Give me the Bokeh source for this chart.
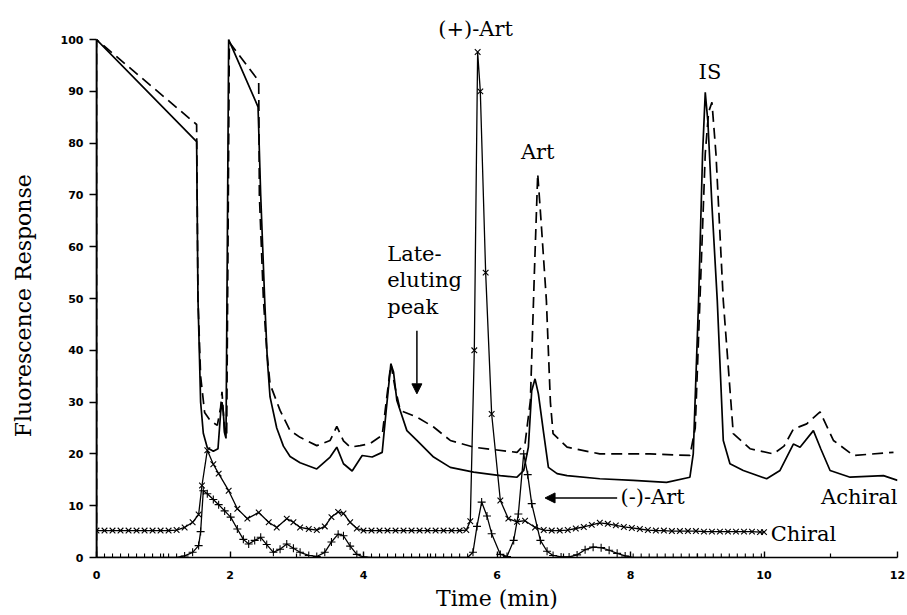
import math
from bokeh.plotting import figure
from bokeh.models import Range1d, FixedTicker, Arrow, NormalHead, Label
from bokeh.core.properties import value
from bokeh.embed import file_html
from bokeh.resources import INLINE

# ---------------- data ----------------
achiral_solid_x = [0.0, 0.0, 1.50, 1.52, 1.56, 1.60, 1.66, 1.75, 1.82, 1.86, 1.88, 1.90, 1.92, 1.94,
                   1.96, 1.98, 2.42, 2.46, 2.52, 2.56, 2.60, 2.70, 2.80, 2.90, 3.05, 3.30, 3.50,
                   3.60, 3.70, 3.83, 3.98, 4.13, 4.28, 4.34, 4.41, 4.45, 4.50, 4.65, 4.80, 5.05,
                   5.30, 5.65, 6.05, 6.30, 6.40, 6.47, 6.52, 6.57, 6.62, 6.70, 6.77, 6.90, 7.05,
                   7.54, 8.04, 8.54, 8.89, 8.94, 9.02, 9.08, 9.12, 9.16, 9.22, 9.30, 9.39, 9.49,
                   9.69, 10.04, 10.24, 10.44, 10.54, 10.74, 10.85, 10.99, 11.29, 11.79, 12.0]
achiral_solid_y = [0.0, 100.0, 80.3, 50.0, 30.0, 24.0, 21.2, 20.5, 21.0, 28.0, 30.0, 28.0, 24.0, 23.0,
                   60.0, 100.0, 87.0, 70.0, 49.6, 38.0, 31.0, 25.0, 21.5, 19.5, 18.3, 17.1, 19.4,
                   21.3, 18.1, 16.7, 19.7, 19.4, 20.3, 28.4, 37.4, 35.8, 30.3, 24.5, 22.6, 19.4,
                   17.4, 16.5, 15.8, 15.5, 16.8, 21.3, 32.2, 34.5, 31.6, 23.9, 17.4, 16.2, 15.8,
                   15.2, 14.9, 14.5, 15.5, 20.0, 49.6, 78.0, 89.8, 84.0, 68.0, 49.6, 22.6, 18.1,
                   16.8, 15.2, 16.8, 21.9, 21.3, 24.5, 21.0, 16.8, 15.5, 15.8, 14.9]

achiral_dash_x = [0.0, 0.0, 1.50, 1.52, 1.56, 1.62, 1.70, 1.81, 1.86, 1.88, 1.90, 1.92, 1.95, 1.97,
                  1.99, 2.43, 2.44, 2.50, 2.55, 2.60, 2.75, 2.90, 3.05, 3.30, 3.50, 3.60, 3.70,
                  3.80, 3.95, 4.10, 4.28, 4.34, 4.41, 4.47, 4.55, 4.80, 5.05, 5.30, 5.65, 6.30,
                  6.42, 6.50, 6.56, 6.61, 6.66, 6.74, 6.80, 6.84, 7.05, 7.54, 8.29, 8.89, 8.97,
                  9.04, 9.12, 9.17, 9.22, 9.28, 9.39, 9.54, 9.79, 10.14, 10.30, 10.44, 10.64,
                  10.84, 11.04, 11.34, 11.94]
achiral_dash_y = [0.0, 100.0, 83.6, 50.0, 35.0, 28.0, 26.5, 25.5, 29.0, 32.0, 28.0, 24.0, 23.5, 60.0,
                  99.5, 92.0, 70.0, 50.0, 40.0, 33.5, 28.4, 24.5, 23.2, 21.6, 22.6, 25.3, 22.5,
                  21.3, 21.6, 22.0, 23.6, 30.0, 37.4, 33.0, 28.4, 27.1, 25.2, 22.6, 21.3, 20.3,
                  22.0, 30.3, 55.0, 74.1, 65.0, 49.6, 30.0, 23.9, 21.3, 20.0, 20.0, 19.7, 25.0,
                  49.6, 78.0, 86.0, 87.9, 78.0, 49.6, 23.9, 21.0, 20.0, 21.5, 24.8, 25.8,
                  28.1, 22.6, 19.7, 20.3]

chiral_x_x = [0.00, 0.12, 0.24, 0.36, 0.48, 0.60, 0.72, 0.84, 0.96, 1.08, 1.20, 1.32, 1.44, 1.53,
              1.58, 1.66, 1.75, 1.83, 1.98, 2.11, 2.26, 2.43, 2.58, 2.70, 2.85, 2.95, 3.05, 3.18,
              3.30, 3.42, 3.52, 3.62, 3.70, 3.80, 3.90, 4.00, 4.12, 4.24, 4.36, 4.48, 4.60, 4.72,
              4.84, 4.96, 5.08, 5.20, 5.32, 5.44, 5.54, 5.60, 5.66, 5.71, 5.75, 5.83, 5.92, 6.05,
              6.17, 6.30, 6.42, 6.57, 6.70, 6.82, 6.94, 7.06, 7.18, 7.30, 7.42, 7.54, 7.66, 7.78,
              7.90, 8.02, 8.14, 8.26, 8.38, 8.50, 8.62, 8.74, 8.86, 8.98, 9.10, 9.22, 9.34, 9.46,
              9.58, 9.70, 9.82, 9.94, 10.0]
chiral_x_y = [5.2, 5.2, 5.2, 5.2, 5.2, 5.2, 5.2, 5.2, 5.2, 5.2, 5.3, 5.8, 6.8, 8.3,
              13.9, 20.7, 18.0, 16.2, 12.9, 9.4, 7.5, 8.7, 6.8, 5.8, 7.5, 6.8, 5.8, 5.5,
              5.3, 6.0, 7.8, 8.8, 8.5, 6.8, 5.6, 5.2, 5.2, 5.2, 5.2, 5.2, 5.2, 5.2,
              5.2, 5.2, 5.2, 5.2, 5.2, 5.2, 5.3, 7.0, 40.0, 97.6, 90.0, 55.0, 27.7, 11.0,
              7.5, 6.9, 7.1, 5.8, 5.3, 5.2, 5.2, 5.3, 5.6, 5.9, 6.3, 6.7, 6.5, 6.2,
              5.9, 5.7, 5.5, 5.3, 5.2, 5.2, 5.1, 5.1, 5.1, 5.1, 5.0, 5.0, 5.0, 5.0,
              5.0, 5.0, 5.0, 4.9, 4.9]

chiral_p_x = [0.00, 0.12, 0.24, 0.36, 0.48, 0.60, 0.72, 0.84, 0.96, 1.08, 1.20, 1.32, 1.44, 1.53,
              1.56, 1.60, 1.66, 1.75, 1.83, 1.92, 2.01, 2.11, 2.20, 2.28, 2.37, 2.46, 2.55, 2.65,
              2.75, 2.85, 2.95, 3.05, 3.18, 3.30, 3.42, 3.52, 3.62, 3.70, 3.80, 3.90, 4.00, 4.12,
              4.24, 4.36, 4.48, 4.60, 4.72, 4.84, 4.96, 5.08, 5.20, 5.32, 5.44, 5.56, 5.64, 5.70,
              5.77, 5.85, 5.92, 6.05, 6.15, 6.25, 6.32, 6.40, 6.46, 6.52, 6.65, 6.75, 6.84, 6.96,
              7.08, 7.20, 7.32, 7.44, 7.56, 7.68, 7.80, 7.92, 8.04, 8.16, 8.28, 8.40, 8.52, 8.64,
              8.76, 8.88, 9.00, 9.12, 9.24, 9.36, 9.48, 9.60, 9.72, 9.84, 9.96]
chiral_p_y = [0.0, 0.0, 0.0, 0.0, 0.0, 0.0, 0.0, 0.0, 0.0, 0.0, 0.0, 0.3, 1.0, 2.3,
              5.0, 12.9, 12.3, 11.2, 10.2, 9.0, 7.8, 5.5, 3.5, 2.6, 3.3, 3.9, 2.5, 1.0,
              1.6, 2.6, 1.8, 1.0, 0.4, 0.2, 1.0, 3.0, 4.5, 4.2, 2.2, 0.6, 0.1, 0.0,
              0.0, 0.0, 0.0, 0.0, 0.0, 0.0, 0.0, 0.0, 0.0, 0.0, 0.0, 0.0, 1.0, 6.0,
              10.7, 8.0, 4.6, 0.6, 0.2, 3.3, 8.4, 20.0, 16.0, 10.4, 3.3, 1.2, 0.4, 0.1,
              0.1, 0.5, 1.5, 2.0, 1.9, 1.4, 0.8, 0.3, 0.0, 0.0, 0.0, 0.0, 0.0, 0.0,
              0.0, 0.0, 0.0, 0.0, 0.0, 0.0, 0.0, 0.0, 0.0, 0.0, 0.0]

x_ticks = [0, 2, 4, 6, 8, 10, 12]
x_minor = [1, 3, 5, 7, 9, 11]
y_ticks = [0, 10, 20, 30, 40, 50, 60, 70, 80, 90, 100]

peak_labels = ["(+)-Art", "Art", "IS"]
late_lines = ["Late-", "eluting", "peak"]

# label placement (data coordinates)
peak_label_x = [5.68, 6.61, 9.19]
peak_label_y = [102.1, 78.2, 93.8]
late_x = [4.355, 4.355, 4.355]
late_y = [58.6, 53.6, 48.3]

SERIF = "DejaVu Serif"
FS = "21px"

p = figure(width=907, height=615, output_backend="svg", toolbar_location=None,
           x_range=Range1d(0, 12), y_range=Range1d(0, 106),
           min_border_left=96, min_border_right=10, min_border_top=8, min_border_bottom=58)
p.outline_line_color = None
p.grid.visible = False
p.background_fill_color = "white"
p.border_fill_color = "white"

# axes
p.xaxis.bounds = (0, 12)
p.yaxis.bounds = (0, 100)
p.xaxis.ticker = FixedTicker(ticks=x_ticks, minor_ticks=x_minor)
p.yaxis.ticker = FixedTicker(ticks=y_ticks, minor_ticks=[])
for ax in (p.xaxis[0], p.yaxis[0]):
    ax.axis_line_width = 1.7
    ax.axis_line_color = "black"
    ax.major_tick_line_color = "black"
    ax.major_tick_line_width = 1.4
    ax.minor_tick_line_color = "black"
    ax.minor_tick_line_width = 1.2
    ax.major_label_text_font = "DejaVu Sans"
    ax.major_label_text_font_style = "bold"
    ax.major_label_text_font_size = "11px"
    ax.major_label_text_color = "black"
    ax.axis_label_text_font = SERIF
    ax.axis_label_text_font_style = "normal"
    ax.axis_label_text_font_size = "22px"
    ax.axis_label_text_color = "black"

p.xaxis.major_tick_in = 6
p.xaxis.major_tick_out = 0
p.xaxis.minor_tick_in = 4
p.xaxis.minor_tick_out = 0
p.xaxis.major_label_standoff = 13
p.xaxis.axis_label = "Time (min)"
p.xaxis.axis_label_standoff = 4

p.yaxis.major_tick_in = 0
p.yaxis.major_tick_out = 7
p.yaxis.minor_tick_in = 0
p.yaxis.minor_tick_out = 0
p.yaxis.major_label_standoff = 6

# y-axis title (placed off-centre like the original), in the left border panel
p.add_layout(Label(x=-1.10, y=48.6, text="Fluorescence Response", angle=math.pi / 2,
                   text_font=SERIF, text_font_size="22px", text_color="black",
                   text_align="center", text_baseline="middle"), "left")

# traces
p.line(achiral_solid_x, achiral_solid_y, line_color="black", line_width=1.7)
p.line(achiral_dash_x, achiral_dash_y, line_color="black", line_width=1.7, line_dash="11 6")

p.line(chiral_x_x, chiral_x_y, line_color="black", line_width=1.3)
p.scatter(chiral_x_x, chiral_x_y, marker="x", size=8, line_color="black", line_width=1.1)

p.line(chiral_p_x, chiral_p_y, line_color="black", line_width=1.3)
p.scatter(chiral_p_x, chiral_p_y, marker="cross", size=8, line_color="black", line_width=1.1)

# labels
p.text(x=peak_label_x, y=peak_label_y, text=peak_labels, text_font=value(SERIF),
       text_font_size=FS, text_align="center", text_baseline="middle", text_color="black")
p.text(x=late_x, y=late_y, text=late_lines, text_font=value(SERIF),
       text_font_size=FS, text_align="left", text_baseline="alphabetic", text_color="black")
p.text(x=[7.85], y=[11.6], text=["(-)-Art"], text_font=value(SERIF),
       text_font_size=FS, text_align="left", text_baseline="middle", text_color="black")
p.text(x=[12.0], y=[11.6], text=["Achiral"], text_font=value(SERIF),
       text_font_size=FS, text_align="right", text_baseline="middle", text_color="black")
p.text(x=[10.10], y=[4.6], text=["Chiral"], text_font=value(SERIF),
       text_font_size=FS, text_align="left", text_baseline="middle", text_color="black")

# arrows
p.add_layout(Arrow(end=NormalHead(size=10, fill_color="black", line_color="black"),
                   x_start=4.80, y_start=43.8, x_end=4.80, y_end=31.6,
                   line_color="black", line_width=1.5))
p.add_layout(Arrow(end=NormalHead(size=10, fill_color="black", line_color="black"),
                   x_start=7.80, y_start=11.5, x_end=6.72, y_end=11.5,
                   line_color="black", line_width=1.5))

open("out.html", "w").write(file_html(p, INLINE))
